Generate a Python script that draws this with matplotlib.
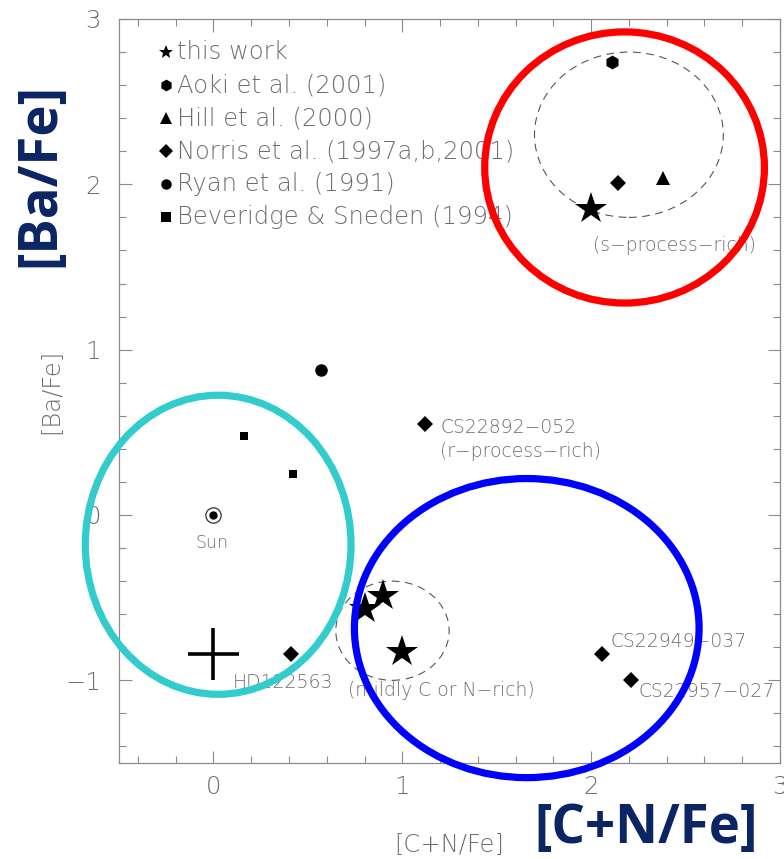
import matplotlib
matplotlib.use("Agg")
import matplotlib.pyplot as plt
from matplotlib.patches import Ellipse
from matplotlib.ticker import MultipleLocator, FixedLocator, FixedFormatter

plt.rcParams['font.family'] = ['DejaVu Sans']

# ---- data -------------------------------------------------------------
this_work_x = [2.00, 0.90, 0.80, 1.00]
this_work_y = [1.85, -0.49, -0.57, -0.83]

aoki_x = [2.11]
aoki_y = [2.74]

hill_x = [2.38]
hill_y = [2.04]

norris_x = [2.14, 1.12, 0.41, 2.06, 2.21]
norris_y = [2.01, 0.55, -0.84, -0.84, -1.00]

ryan_x = [0.57]
ryan_y = [0.88]

beveridge_x = [0.16, 0.42]
beveridge_y = [0.48, 0.25]

sun_x, sun_y = 0.0, 0.0

# typical error bar
err_x, err_y = 0.0, -0.84
err_dx, err_dy = 0.135, 0.157

legend_labels = ["this work", "Aoki et al. (2001)", "Hill et al. (2000)",
                 "Norris et al. (1997a,b,2001)", "Ryan et al. (1991)",
                 "Beveridge & Sneden (1994)"]
legend_markers = ["*", "h", "^", "D", "o", "s"]
legend_sizes = [10, 8.5, 8, 7, 7.5, 7]

star_names = ["CS22892\u2212052", "HD122563", "CS22949\u2212037", "CS22957\u2212027"]
group_notes = ["(r\u2212process\u2212rich)", "(s\u2212process\u2212rich)",
               "(mildly C or N\u2212rich)"]

x_ticks = [0, 1, 2, 3]
x_ticklabels = ["0", "1", "2", "3"]
y_ticks = [-1, 0, 1, 2, 3]
y_ticklabels = ["\u22121", "0", "1", "2", "3"]

GRAY = "#6e6e6e"
NAVY = "#0b2463"

# ---- figure -------------------------------------------------------------
fig = plt.figure(figsize=(7.84, 8.59), dpi=100)
ax = fig.add_axes([119 / 784, 1 - 763 / 859, 661 / 784, 744 / 859])
ax.set_xlim(-0.5, 3.0)
ax.set_ylim(-1.5, 3.0)

for sp in ax.spines.values():
    sp.set_color("#8a8a8a")
    sp.set_linewidth(0.9)

ax.xaxis.set_major_locator(FixedLocator(x_ticks))
ax.xaxis.set_major_formatter(FixedFormatter(x_ticklabels))
ax.yaxis.set_major_locator(FixedLocator(y_ticks))
ax.yaxis.set_major_formatter(FixedFormatter(y_ticklabels))
ax.xaxis.set_minor_locator(MultipleLocator(0.2))
ax.yaxis.set_minor_locator(MultipleLocator(0.2))
ax.tick_params(which="both", direction="in", top=True, right=True,
               color="#8a8a8a", width=0.8, labelcolor=GRAY, labelsize=17.5)
ax.tick_params(which="major", length=9)
ax.tick_params(which="minor", length=5)
ax.tick_params(axis="x", pad=9)
ax.tick_params(axis="y", pad=13)
for lab in ax.get_xticklabels() + ax.get_yticklabels():
    lab.set_fontweight("light")

ax.set_xlabel("[C+N/Fe]", color=GRAY, fontsize=17.5, fontweight="light")
ax.set_ylabel("[Ba/Fe]", color=GRAY, fontsize=17.5, fontweight="light")
ax.xaxis.set_label_coords(0.5, (763 - 845) / 744)
ax.xaxis.label.set_va("center")
ax.yaxis.set_label_coords((51 - 119) / 661, 0.5)
ax.yaxis.label.set_va("center")

# ---- data points ----------------------------------------------------------
ax.plot(this_work_x, this_work_y, "*", color="black", ms=24, mew=0, zorder=5)
ax.plot(aoki_x, aoki_y, "h", color="black", ms=10, mew=0, zorder=5)
ax.plot(hill_x, hill_y, "^", color="black", ms=10, mew=0, zorder=5)
ax.plot(norris_x, norris_y, "D", color="black", ms=8, mew=0, zorder=5)
ax.plot(ryan_x, ryan_y, "o", color="black", ms=9, mew=0, zorder=5)
ax.plot(beveridge_x, beveridge_y, "s", color="black", ms=6, mew=0, zorder=5)

# solar symbol
ax.plot([sun_x], [sun_y], "o", ms=11, mfc="white", mec="#333333", mew=0.9, zorder=5)
ax.plot([sun_x], [sun_y], "o", ms=6, color="black", mew=0, zorder=6)
ax.text(sun_x - 0.01, sun_y - 0.17, "Sun", color=GRAY, fontsize=12.5,
        ha="center", va="center", fontweight="light")

# representative error bars
ax.errorbar([err_x], [err_y], xerr=[err_dx], yerr=[err_dy], fmt="none",
            ecolor="black", elinewidth=2.6, capsize=0, zorder=5)

# dashed group outlines
ax.add_patch(Ellipse((2.20, 2.30), 1.0, 1.0, fill=False, ec="#555555",
                     lw=0.8, ls=(0, (7, 5)), zorder=3))
ax.add_patch(Ellipse((0.948, -0.70), 0.6, 0.6, fill=False, ec="#555555",
                     lw=0.8, ls=(0, (7, 5)), zorder=3))

# star names and group notes
txt = dict(color=GRAY, fontsize=13.5, ha="left", va="center", fontweight="light",
           clip_on=False)
ax.text(1.20, 0.53, star_names[0], **txt)
ax.text(1.20, 0.383, group_notes[0], **txt)
ax.text(0.103, -1.015, star_names[1], **txt)
ax.text(2.10, -0.766, star_names[2], **txt)
ax.text(2.25, -1.065, star_names[3], **txt)
ax.text(2.01, 1.63, group_notes[1], **txt)
ax.text(0.712, -1.063, group_notes[2], **txt)

# legend
for i, (lab, mk, ms) in enumerate(zip(legend_labels, legend_markers, legend_sizes)):
    yy = 2.80 - 0.2 * i
    ax.plot([-0.253], [yy], mk, color="black", ms=ms, mew=0, zorder=5)
    ax.text(-0.193, yy, lab, color=GRAY, fontsize=17.5, ha="left", va="center",
            fontweight="light")

# highlighted regions
ax.add_patch(Ellipse((2.177, 2.102), 1.481, 1.640, fill=False, ec="#ff0000",
                     lw=5.2, zorder=10, clip_on=False))
ax.add_patch(Ellipse((0.025, -0.18), 1.407, 1.809, fill=False, ec="#33cccc",
                     lw=5.2, zorder=10, clip_on=False))
ax.add_patch(Ellipse((1.659, -0.684), 1.825, 1.809, fill=False, ec="#0000ff",
                     lw=5.2, zorder=10, clip_on=False))

# large axis captions
fig.text(646 / 784, 1 - 829 / 859, "[C+N/Fe]", color=NAVY, fontsize=38,
         fontweight="bold", family=["Open Sans", "DejaVu Sans"],
         ha="center", va="center")
fig.text(40.5 / 784, 1 - 175 / 859, "[Ba/Fe]", color=NAVY, fontsize=38,
         fontweight="bold", family=["Open Sans", "DejaVu Sans"],
         ha="center", va="center", rotation=90)

fig.savefig("out.png", dpi=100, facecolor="white")
